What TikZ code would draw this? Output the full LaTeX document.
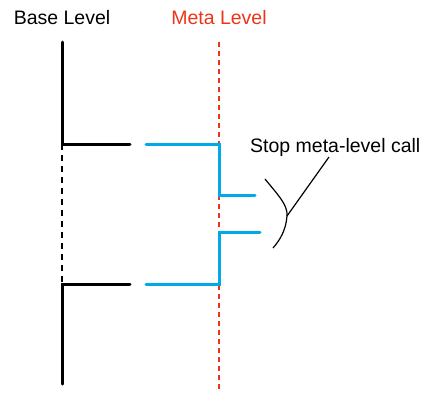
\documentclass[tikz,border=0pt]{standalone}
\usepackage{fontspec}
\setmainfont{Liberation Sans}
\definecolor{metared}{RGB}{238,52,24}
\definecolor{metablue}{RGB}{0,170,230}
\begin{document}
\begin{tikzpicture}[x=1pt,y=-1pt,
  lbl/.style={inner sep=0pt,font=\fontsize{19.5}{22}\selectfont},
  baseline/.style={line width=3pt,black,line cap=round},
  basedash/.style={line width=1.6pt,black,dash pattern=on 6pt off 5pt},
  metadash/.style={line width=1.3pt,metared,dash pattern=on 5pt off 4pt},
  metaline/.style={line width=3pt,metablue,line cap=round},
  thin/.style={line width=1.2pt,black}]
\useasboundingbox (0,0) rectangle (423,392);
\node[lbl,anchor=base] (base) at (62,24) {Base Level};
\node[lbl,anchor=base,text=metared] (meta) at (219,24) {Meta Level};
\node[lbl,anchor=base west] (stop) at (250,152) {Stop meta-level call};
% coordinates
\coordinate (b0) at (62,42);
\coordinate (b1) at (62,144);
\coordinate (b1e) at (130,144);
\coordinate (b2) at (62,284);
\coordinate (b2e) at (130,284);
\coordinate (b3) at (62,384);
\coordinate (m0) at (219,42);
\coordinate (m9) at (219,392);
\coordinate (c1s) at (146,144);
\coordinate (c1) at (219,144);
\coordinate (c1d) at (219,195);
\coordinate (c1e) at (255,195);
\coordinate (c2s) at (146,284);
\coordinate (c2) at (219,284);
\coordinate (c2u) at (219,232);
\coordinate (c2e) at (260,232);
\coordinate (y1) at (265,179);
\coordinate (yj) at (287,216);
\coordinate (y2) at (329,157);
\coordinate (y3) at (273,248);
% meta level axis
\draw[metadash] (m0) -- (m9);
% base level
\draw[baseline] (b0) -- (b1) -- (b1e);
\draw[basedash] (b1) -- (b2);
\draw[baseline] (b2e) -- (b2) -- (b3);
% meta calls
\draw[metaline] (c1s) -- (c1) -- (c1d) -- (c1e);
\draw[metaline] (c2s) -- (c2) -- (c2u) -- (c2e);
% brace
\draw[thin] (y1) .. controls (278,195) and (288,205) .. (yj) .. controls (286,230) and (280,240) .. (y3);
\draw[thin] (y2) -- (yj);
\end{tikzpicture}
\end{document}
